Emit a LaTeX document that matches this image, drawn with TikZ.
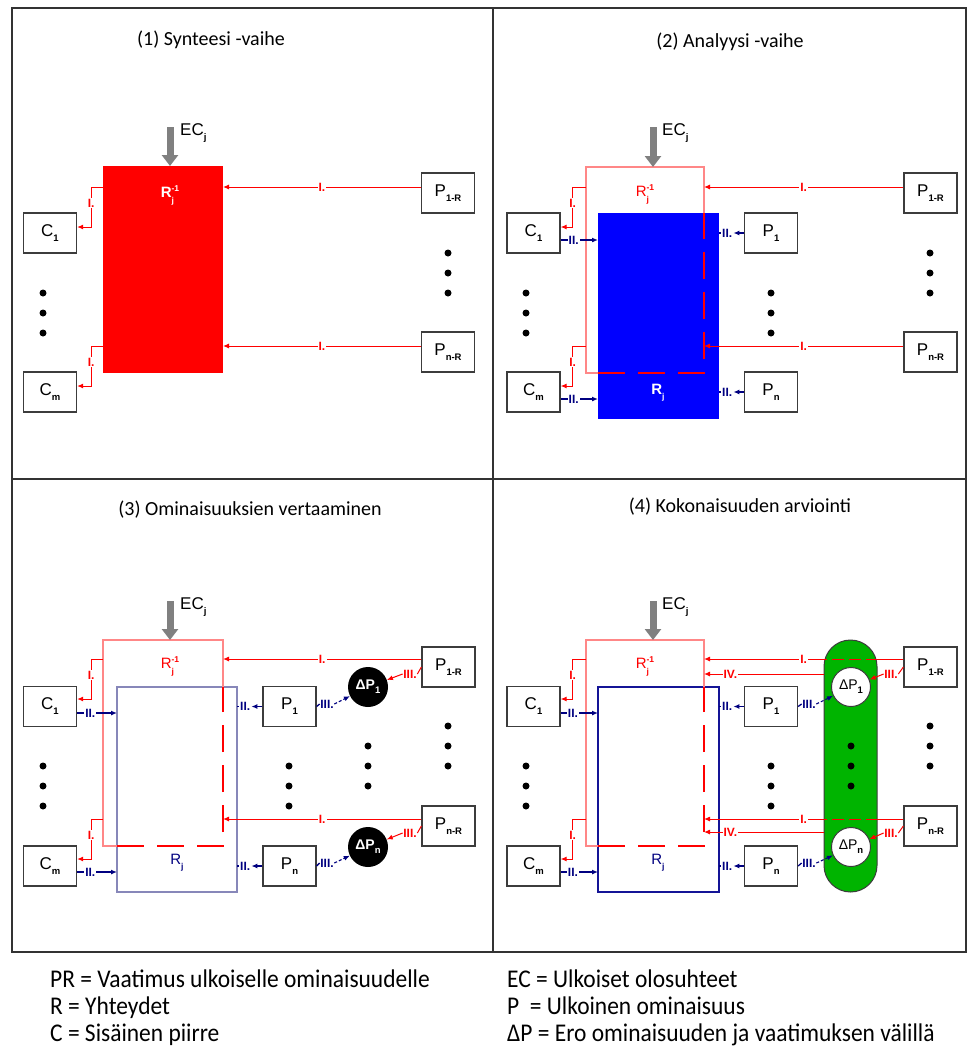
\documentclass[tikz,border=0pt]{standalone}
\usepackage{fontspec}
\setmainfont{Carlito}
\newfontfamily\arial{Liberation Sans}
\newfontfamily\lgdfont[FakeStretch=0.92]{Carlito}
\usetikzlibrary{arrows.meta,calc}
\definecolor{myred}{RGB}{255,0,0}
\definecolor{mypink}{RGB}{255,135,135}
\definecolor{myblue}{RGB}{0,0,255}
\definecolor{mynavy}{RGB}{0,0,128}
\definecolor{mylav}{RGB}{135,135,185}
\definecolor{mydnavy}{RGB}{20,20,150}
\definecolor{mygreen}{RGB}{0,180,0}
\definecolor{mygray}{RGB}{128,128,128}
\definecolor{boxline}{RGB}{60,60,60}
\newcommand{\sbs}[1]{\raisebox{-0.3em}{\fontsize{9.5}{9.5}\selectfont\bfseries #1}}
\newcommand{\rinv}{R\rlap{\raisebox{-0.35em}{\fontsize{8.5}{8.5}\selectfont\bfseries j}}\raisebox{0.45em}{\fontsize{8.5}{8.5}\selectfont\bfseries -1}}
\newcommand{\rjj}{R\raisebox{-0.35em}{\fontsize{8.5}{8.5}\selectfont\bfseries j}}
\tikzset{
  box/.style={draw=boxline, line width=1.3pt, fill=white, minimum width=53pt, minimum height=40pt, inner sep=0pt, font=\arial\fontsize{17}{17}\selectfont},
  big/.style={anchor=north west, inner sep=0pt, outer sep=0pt},
  lbl/.style={fill=white, inner sep=1pt, font=\arial\bfseries\fontsize{12}{12}\selectfont},
  nlbl/.style={inner sep=0.5pt, font=\arial\bfseries\fontsize{12}{12}\selectfont},
  rline/.style={draw=myred, line width=1pt},
  rarr/.style={rline, -{Latex[length=6pt,width=5pt]}},
  bline/.style={draw=mynavy, line width=1.3pt},
  barr/.style={bline, -{Latex[length=6pt,width=5pt]}},
  bdarr/.style={draw=mynavy, line width=1.1pt, dash pattern=on 3pt off 2pt, -{Latex[length=6pt,width=5pt]}},
  pinkl/.style={draw=mypink, line width=1.3pt},
  reddash/.style={draw=myred, line width=1.3pt, dash pattern=on 27pt off 13pt},
  ecarr/.style={draw=mygray, line width=7pt, -{Triangle[length=11pt,width=16pt]}},
  eclbl/.style={anchor=west, inner sep=0pt, font=\arial\fontsize{17}{17}\selectfont},
  ttl/.style={font=\fontsize{20}{20}\selectfont},
  lgd/.style={anchor=base west, inner sep=0pt, font=\lgdfont\fontsize{25.5}{25.5}\selectfont},
  rlabr/.style={font=\arial\fontsize{15}{15}\selectfont, text=myred},
  rlabw/.style={font=\arial\bfseries\fontsize{15}{15}\selectfont, text=white},
  circ/.style={circle, minimum size=40pt, inner sep=0pt, font=\arial\bfseries\fontsize{14}{14}\selectfont},
  panelframe/.style={draw=black!80, line width=1.3pt},
}
\begin{document}
\begin{tikzpicture}[x=1pt,y=-1pt]
\fill[white] (0,0) rectangle (968,1050);
\path[use as bounding box] (0,0) rectangle (968,1050);
% frame
\draw[panelframe] (12,8) rectangle (966,952);
\draw[panelframe] (493,8) -- (493,952);
\draw[panelframe] (12,479) -- (966,479);
% titles
\node[ttl] (t1) at (211,40) {(1) Synteesi -vaihe};
\node[ttl] (t2) at (730,42) {(2) Analyysi -vaihe};
\node[ttl] (t3) at (250,510) {(3) Ominaisuuksien vertaaminen};
\node[ttl] (t4) at (740,507) {(4) Kokonaisuuden arviointi};

% ================= Panel 1
\node[big, fill=myred, minimum width=120pt, minimum height=207pt] (RA) at (103,166) {};
\node[rlabw] (RAl) at (170,195) {\rinv};
\coordinate (ecA) at (170,127);
\draw[ecarr] (ecA) -- (ecA |- RA.north);
\node[eclbl] (ecAl) at (180,133) {EC\sbs{j}};
\node[box] (CA1) at (50,233) {C\sbs{1}};
\node[box] (CAm) at (50,392) {C\sbs{m}};
\node[box] (PRA1) at (448,193) {P\sbs{1-R}};
\node[box] (PRAn) at (448,352) {P\sbs{n-R}};
\draw[rarr] ([yshift=-21pt]RA.north west) -| node[lbl,text=myred,pos=0.7]{I.} ([xshift=14pt,yshift=6pt]CA1.east) -- ([yshift=6pt]CA1.east);
\draw[rarr] ([yshift=-180pt]RA.north west) -| node[lbl,text=myred,pos=0.7]{I.} ([xshift=14pt,yshift=6pt]CAm.east) -- ([yshift=6pt]CAm.east);
\coordinate (pa1) at ([yshift=6pt]PRA1.west);
\draw[rarr] (pa1) -- node[lbl,text=myred]{I.} (pa1 -| RA.east);
\coordinate (pan) at ([yshift=6pt]PRAn.west);
\draw[rarr] (pan) -- node[lbl,text=myred]{I.} (pan -| RA.east);
\foreach \y in {293,313,333} \fill (43,\y) circle (3.5pt);
\foreach \y in {253,273,293} \fill (448,\y) circle (3.5pt);

% ================= Panel 2
\node[big, minimum width=118pt, minimum height=206pt] (PB) at (586,167) {};
\node[big, fill=myblue, minimum width=121pt, minimum height=206pt] (BB) at (598,213) {};
\draw[pinkl] (PB.east |- BB.north) -- (PB.north east) -- (PB.north west) -- (PB.south west) -- (PB.south -| BB.west);
\draw[reddash] (PB.south -| BB.west) -- (PB.south east) -- (PB.east |- BB.north);
\node[rlabr] (PBl) at (645,194) {\rinv};
\node[rlabw] (BBl) at (658,393) {\rjj};
\coordinate (ecB) at (653,127);
\draw[ecarr] (ecB) -- (ecB |- PB.north);
\node[eclbl] (ecBl) at (662,133) {EC\sbs{j}};
\node[box] (CB1) at (533.5,233) {C\sbs{1}};
\node[box] (CBm) at (533.5,392) {C\sbs{m}};
\draw[rarr] ([yshift=-20pt]PB.north west) -| node[lbl,text=myred,pos=0.7]{I.} ([xshift=12pt,yshift=6pt]CB1.east) -- ([yshift=6pt]CB1.east);
\draw[rarr] ([yshift=-179pt]PB.north west) -| node[lbl,text=myred,pos=0.7]{I.} ([xshift=12pt,yshift=6pt]CBm.east) -- ([yshift=6pt]CBm.east);
\coordinate (cb1) at ([yshift=-7pt]CB1.east);
\draw[barr] (cb1) -- node[lbl,text=mynavy,pos=0.35]{II.} (cb1 -| BB.west);
\coordinate (cbm) at ([yshift=-7pt]CBm.east);
\draw[barr] (cbm) -- node[lbl,text=mynavy,pos=0.35]{II.} (cbm -| BB.west);
\node[box] (PRB1) at (930.5,193) {P\sbs{1-R}};
\node[box] (PRBn) at (930.5,352) {P\sbs{n-R}};
\coordinate (pb1r) at ([yshift=6pt]PRB1.west);
\draw[rarr] (pb1r) -- node[lbl,text=myred]{I.} (pb1r -| PB.east);
\coordinate (pbnr) at ([yshift=6pt]PRBn.west);
\draw[rarr] (pbnr) -- node[lbl,text=myred]{I.} (pbnr -| PB.east);
\node[box] (PB1) at (771,233) {P\sbs{1}};
\node[box] (PBn) at (771,392) {P\sbs{n}};
\node[lbl,text=mynavy,anchor=west] (lb1) at ([xshift=2pt]BB.east |- PB1.west) {II.};
\draw[bline] (BB.east |- PB1.west) -- (lb1.west);
\draw[barr] (PB1.west) -- (lb1.east);
\node[lbl,text=mynavy,anchor=west] (lbn) at ([xshift=2pt]BB.east |- PBn.west) {II.};
\draw[bline] (BB.east |- PBn.west) -- (lbn.west);
\draw[barr] (PBn.west) -- (lbn.east);
\foreach \y in {293,313,333} \fill (526,\y) circle (3.5pt);
\foreach \y in {293,313,333} \fill (771,\y) circle (3.5pt);
\foreach \y in {253,273,293} \fill (930,\y) circle (3.5pt);

% ================= Panel 3
\node[big, minimum width=120pt, minimum height=206pt] (PC) at (103,640) {};
\node[big, draw=mylav, line width=1.3pt, minimum width=120pt, minimum height=205pt] (BC) at (117,687) {};
\draw[pinkl] (PC.east |- BC.north) -- (PC.north east) -- (PC.north west) -- (PC.south west) -- (PC.south -| BC.west);
\draw[reddash] (PC.south -| BC.west) -- (PC.south east) -- (PC.east |- BC.north);
\node[rlabr] (PCl) at (170,666) {\rinv};
\node[font=\arial\fontsize{15}{15}\selectfont, text=mynavy] (BCl) at (177,863) {\rjj};
\coordinate (ecC) at (170,601);
\draw[ecarr] (ecC) -- (ecC |- PC.north);
\node[eclbl] (ecCl) at (180,607) {EC\sbs{j}};
\node[box] (CC1) at (50,706.5) {C\sbs{1}};
\node[box] (CCm) at (50,866) {C\sbs{m}};
\draw[rarr] ([yshift=-19pt]PC.north west) -| node[lbl,text=myred,pos=0.7]{I.} ([xshift=14pt,yshift=7.5pt]CC1.east) -- ([yshift=7.5pt]CC1.east);
\draw[rarr] ([yshift=-179pt]PC.north west) -| node[lbl,text=myred,pos=0.7]{I.} ([xshift=14pt,yshift=7pt]CCm.east) -- ([yshift=7pt]CCm.east);
\coordinate (cc1) at ([yshift=-6.5pt]CC1.east);
\draw[barr] (cc1) -- node[lbl,text=mynavy,pos=0.33]{II.} (cc1 -| BC.west);
\coordinate (ccm) at ([yshift=-6pt]CCm.east);
\draw[barr] (ccm) -- node[lbl,text=mynavy,pos=0.33]{II.} (ccm -| BC.west);
\node[box] (PRC1) at (448.5,667) {P\sbs{1-R}};
\node[box] (PRCn) at (448.5,826) {P\sbs{n-R}};
\coordinate (pc1r) at ([yshift=8pt]PRC1.west);
\draw[rarr] (pc1r) -- node[lbl,text=myred]{I.} (pc1r -| PC.east);
\coordinate (pcnr) at ([yshift=7pt]PRCn.west);
\draw[rarr] (pcnr) -- node[lbl,text=myred]{I.} (pcnr -| PC.east);
\node[box] (PC1) at (289.5,706.5) {P\sbs{1}};
\node[box] (PCn) at (289.5,866) {P\sbs{n}};
\node[lbl,text=mynavy,anchor=west] (lc1) at ([xshift=2pt]BC.east |- PC1.west) {II.};
\draw[bline] (BC.east |- PC1.west) -- (lc1.west);
\draw[barr] (PC1.west) -- (lc1.east);
\node[lbl,text=mynavy,anchor=west] (lcn) at ([xshift=2pt]BC.east |- PCn.west) {II.};
\draw[bline] (BC.east |- PCn.west) -- (lcn.west);
\draw[barr] (PCn.west) -- (lcn.east);
\node[circ, fill=black, text=white] (DC1) at (368,687) {ΔP\sbs{1}};
\node[circ, fill=black, text=white] (DCn) at (368,847) {ΔP\sbs{n}};
\node[nlbl,text=mynavy] (tbc1) at (327,704) {III.};
\draw[bline] (PC1.east) -- (tbc1.west);
\draw[bdarr] (tbc1.east) -- (DC1);
\node[nlbl,text=mynavy] (tbcn) at (327,863) {III.};
\draw[bline] (PCn.east) -- (tbcn.west);
\draw[bdarr] (tbcn.east) -- (DCn);
\node[nlbl,text=myred] (trc1) at (410,674) {III.};
\draw[rline] (trc1.east) -- (PRC1.west);
\draw[rarr] (trc1.west) -- (DC1);
\node[nlbl,text=myred] (trcn) at (410,833) {III.};
\draw[rline] (trcn.east) -- (PRCn.west);
\draw[rarr] (trcn.west) -- (DCn);
\foreach \y in {766,786,806} \fill (43,\y) circle (3.5pt);
\foreach \y in {766,786,806} \fill (289,\y) circle (3.5pt);
\foreach \y in {746,766,786} \fill (368,\y) circle (3.5pt);
\foreach \y in {726,746,766} \fill (448,\y) circle (3.5pt);

% ================= Panel 4
\node[big, minimum width=118pt, minimum height=206pt] (PD) at (586,640) {};
\node[big, draw=mydnavy, line width=1.3pt, minimum width=121pt, minimum height=205pt] (BD) at (598,687) {};
\draw[pinkl] (PD.east |- BD.north) -- (PD.north east) -- (PD.north west) -- (PD.south west) -- (PD.south -| BD.west);
\draw[reddash] (PD.south -| BD.west) -- (PD.south east) -- (PD.east |- BD.north);
\node[rlabr] (PDl) at (645,666) {\rinv};
\node[font=\arial\fontsize{15}{15}\selectfont, text=mynavy] (BDl) at (658,863) {\rjj};
\coordinate (ecD) at (653,601);
\draw[ecarr] (ecD) -- (ecD |- PD.north);
\node[eclbl] (ecDl) at (662,607) {EC\sbs{j}};
\node[box] (CD1) at (533.5,706.5) {C\sbs{1}};
\node[box] (CDm) at (533.5,866) {C\sbs{m}};
\draw[rarr] ([yshift=-19pt]PD.north west) -| node[lbl,text=myred,pos=0.7]{I.} ([xshift=12pt,yshift=7.5pt]CD1.east) -- ([yshift=7.5pt]CD1.east);
\draw[rarr] ([yshift=-179pt]PD.north west) -| node[lbl,text=myred,pos=0.7]{I.} ([xshift=12pt,yshift=7pt]CDm.east) -- ([yshift=7pt]CDm.east);
\coordinate (cd1) at ([yshift=-6.5pt]CD1.east);
\draw[barr] (cd1) -- node[lbl,text=mynavy,pos=0.33]{II.} (cd1 -| BD.west);
\coordinate (cdm) at ([yshift=-6pt]CDm.east);
\draw[barr] (cdm) -- node[lbl,text=mynavy,pos=0.33]{II.} (cdm -| BD.west);
\node[box] (PRD1) at (930.5,667) {P\sbs{1-R}};
\node[box] (PRDn) at (930.5,826) {P\sbs{n-R}};
\coordinate (pd1r) at ([yshift=8pt]PRD1.west);
\draw[rarr] (pd1r) -- node[lbl,text=myred]{I.} (pd1r -| PD.east);
\coordinate (pdnr) at ([yshift=7pt]PRDn.west);
\draw[rarr] (pdnr) -- node[lbl,text=myred]{I.} (pdnr -| PD.east);
\node[draw=boxline, line width=1pt, fill=mygreen, rounded corners=26.5pt, minimum width=53pt, minimum height=252pt, inner sep=0pt] (G) at (850.5,766) {};
\draw[rline, dash pattern=on 12pt off 5pt] (pd1r -| G.east) -- (pd1r -| G.west);
\draw[rline, dash pattern=on 12pt off 5pt] (pdnr -| G.east) -- (pdnr -| G.west);
\coordinate (iv1) at ([yshift=92pt]G.west);
\draw[rarr] (iv1) -- node[lbl,text=myred,pos=0.78]{IV.} (iv1 -| PD.east);
\coordinate (ivn) at ([yshift=-66pt]G.west);
\draw[rarr] (ivn) -- node[lbl,text=myred,pos=0.78]{IV.} (ivn -| PD.east);
\node[box] (PD1) at (771,706.5) {P\sbs{1}};
\node[box] (PDn) at (771,866) {P\sbs{n}};
\node[lbl,text=mynavy,anchor=west] (ld1) at ([xshift=2pt]BD.east |- PD1.west) {II.};
\draw[bline] (BD.east |- PD1.west) -- (ld1.west);
\draw[barr] (PD1.west) -- (ld1.east);
\node[lbl,text=mynavy,anchor=west] (ldn) at ([xshift=2pt]BD.east |- PDn.west) {II.};
\draw[bline] (BD.east |- PDn.west) -- (ldn.west);
\draw[barr] (PDn.west) -- (ldn.east);
\node[circ, draw=boxline, line width=1pt, fill=white, minimum size=39pt] (DD1) at (851,687) {\fontseries{m}\selectfont ΔP\sbs{1}};
\node[circ, draw=boxline, line width=1pt, fill=white, minimum size=39pt] (DDn) at (851,847) {\fontseries{m}\selectfont ΔP\sbs{n}};
\node[nlbl,text=mynavy] (tbd1) at (809,704) {III.};
\draw[bline] (PD1.east) -- (tbd1.west);
\draw[bdarr] (tbd1.east) -- (DD1);
\node[nlbl,text=mynavy] (tbdn) at (809,863) {III.};
\draw[bline] (PDn.east) -- (tbdn.west);
\draw[bdarr] (tbdn.east) -- (DDn);
\node[nlbl,text=myred] (trd1) at (891,674) {III.};
\draw[rline] (trd1.east) -- (PRD1.west);
\draw[rarr] (trd1.west) -- (DD1);
\node[nlbl,text=myred] (trdn) at (891,833) {III.};
\draw[rline] (trdn.east) -- (PRDn.west);
\draw[rarr] (trdn.west) -- (DDn);
\foreach \y in {766,786,806} \fill (526,\y) circle (3.5pt);
\foreach \y in {766,786,806} \fill (771,\y) circle (3.5pt);
\foreach \y in {746,766,786} \fill (851,\y) circle (3.5pt);
\foreach \y in {726,746,766} \fill (930,\y) circle (3.5pt);

% ================= Legend
\node[lgd] (L1) at (50,987) {PR = Vaatimus ulkoiselle ominaisuudelle};
\node[lgd] (L2) at (50,1014) {R = Yhteydet};
\node[lgd] (L3) at (50,1041) {C = Sisäinen piirre};
\node[lgd] (L4) at (507,987) {EC = Ulkoiset olosuhteet};
\node[lgd] (L5) at (507,1014) {P~ = Ulkoinen ominaisuus};
\node[lgd] (L6) at (507,1041) {ΔP = Ero ominaisuuden ja vaatimuksen välillä};
\end{tikzpicture}
\end{document}
